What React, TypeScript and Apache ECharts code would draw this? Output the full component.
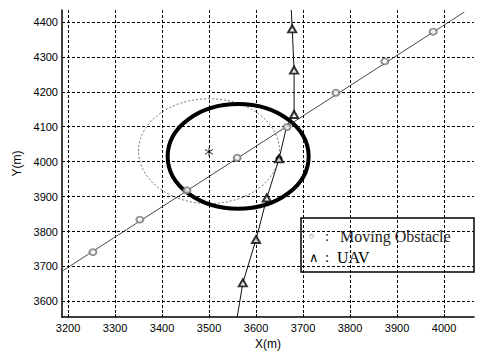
import React, { useEffect, useRef } from 'react';
import * as echarts from 'echarts';

// Axis ticks (metres)
const xTicks = [3200, 3300, 3400, 3500, 3600, 3700, 3800, 3900, 4000];
const yTicks = [3600, 3700, 3800, 3900, 4000, 4100, 4200, 4300, 4400];

// Moving obstacle: straight track and sampled positions
const obstacleTrack = [
  [3188, 3687],
  [4043, 4428],
];
const obstaclePositions = [
  [3253, 3741],
  [3353, 3834],
  [3453, 3918],
  [3560, 4011],
  [3666, 4099],
  [3770, 4197],
  [3874, 4287],
  [3977, 4372],
];

// UAV trajectory and sampled positions
const uavPath = [
  [3560, 3555],
  [3572, 3653],
  [3600, 3777],
  [3623, 3896],
  [3649, 4008],
  [3665, 4100],
  [3681, 4135],
  [3681, 4262],
  [3677, 4380],
  [3675, 4434],
];
const uavMarks = [
  [3572, 3653],
  [3600, 3777],
  [3623, 3896],
  [3649, 4008],
  [3681, 4135],
  [3681, 4262],
  [3677, 4380],
];
const uavCurrent = [[3649, 4008]];

// Predicted obstacle position (asterisk)
const predictedPoint = [[3500, 4028]];

// Protection zones: [centre x, centre y, radius]
const currentZone = [[3562, 4015, 150]];
const predictedZone = [[3500, 4030, 150]];

const zoneSeries = (data: number[][], style: any, z: number) => ({
  type: 'custom',
  z,
  silent: true,
  encode: { x: 0, y: 1 },
  data,
  renderItem: (params: any, api: any) => {
    const c = api.coord([api.value(0), api.value(1)]);
    const s = api.size([api.value(2), api.value(2)]);
    return {
      type: 'ellipse',
      shape: { cx: c[0], cy: c[1], rx: s[0], ry: s[1] },
      style: { fill: 'none', ...style },
    };
  },
});

export default function App() {
  const ref = useRef<HTMLDivElement>(null);

  useEffect(() => {
    if (!ref.current) return;
    const chart = echarts.init(ref.current, null, { renderer: 'svg' });
    const gridLine = { show: true, lineStyle: { color: '#000', width: 1, type: [3, 2] } };
    const labelFont = { fontFamily: 'Liberation Sans, Arial, sans-serif', fontSize: 11, color: '#000' };
    const plain = (v: number) => String(v);

    chart.setOption({
      animation: false,
      backgroundColor: '#fff',
      grid: { left: 62, top: 10, width: 412, height: 312, containLabel: false },
      xAxis: {
        type: 'value',
        min: 3187.2,
        max: 4063.8,
        name: 'X(m)',
        nameLocation: 'middle',
        nameGap: 19,
        nameTextStyle: { ...labelFont, fontSize: 12 },
        axisLine: { show: true, onZero: false, lineStyle: { color: '#000', width: 1.5 } },
        axisTick: { show: true, inside: true, length: 3, customValues: xTicks, lineStyle: { color: '#000' } },
        axisLabel: { ...labelFont, margin: 5, customValues: xTicks, formatter: plain },
        splitLine: gridLine,
      },
      yAxis: {
        type: 'value',
        min: 3555,
        max: 4434,
        name: 'Y(m)',
        nameLocation: 'middle',
        nameGap: 38,
        nameTextStyle: { ...labelFont, fontSize: 12 },
        axisLine: { show: true, onZero: false, lineStyle: { color: '#000', width: 1.5 } },
        axisTick: { show: true, inside: true, length: 3, customValues: yTicks, lineStyle: { color: '#000' } },
        axisLabel: { ...labelFont, margin: 4, customValues: yTicks, formatter: plain },
        splitLine: gridLine,
      },
      series: [
        zoneSeries(predictedZone, { stroke: '#777', lineWidth: 1, lineDash: [2, 2] }, 2),
        zoneSeries(currentZone, { stroke: '#000', lineWidth: 4 }, 3),
        {
          type: 'line',
          z: 4,
          data: obstacleTrack,
          symbol: 'none',
          lineStyle: { color: '#333', width: 0.9 },
          silent: true,
        },
        {
          type: 'scatter',
          z: 5,
          data: obstaclePositions,
          symbol: 'emptyCircle',
          symbolSize: [7, 6],
          itemStyle: { color: '#777', borderColor: '#777', borderWidth: 1 },
          silent: true,
        },
        {
          type: 'line',
          z: 4,
          data: uavPath,
          symbol: 'none',
          lineStyle: { color: '#111', width: 1 },
          silent: true,
        },
        {
          type: 'scatter',
          z: 6,
          data: uavCurrent,
          symbol: 'circle',
          symbolSize: 7,
          itemStyle: { color: '#000' },
          silent: true,
        },
        {
          type: 'scatter',
          z: 7,
          data: uavMarks,
          symbol: 'emptyTriangle',
          symbolSize: [8, 7],
          itemStyle: { color: '#000', borderColor: '#000', borderWidth: 1 },
          silent: true,
        },
        {
          type: 'scatter',
          z: 6,
          data: predictedPoint,
          symbol: 'path://M5,0L5,10M0,2L10,8M0,8L10,2',
          symbolSize: 8,
          itemStyle: { color: 'none', borderColor: '#000', borderWidth: 1 },
          silent: true,
        },
      ],
      graphic: [
        {
          type: 'rect',
          shape: { x: 301, y: 218, width: 173, height: 54 },
          style: { fill: 'none', stroke: '#000', lineWidth: 1.5 },
          z: 10,
        },
        {
          type: 'text',
          x: 309,
          y: 236,
          style: { text: '○', fill: '#666', verticalAlign: 'middle', font: '9px Liberation Serif' },
          z: 10,
        },
        {
          type: 'text',
          x: 325,
          y: 236,
          style: { text: ':', fill: '#222', verticalAlign: 'middle', font: '15px Liberation Serif' },
          z: 10,
        },
        {
          type: 'text',
          x: 340,
          y: 236,
          style: { text: 'Moving Obstacle', fill: '#222', verticalAlign: 'middle', font: '16px Liberation Serif' },
          z: 10,
        },
        {
          type: 'text',
          x: 309,
          y: 257,
          style: { text: '∧', fill: '#000', verticalAlign: 'middle', font: '13px Liberation Serif' },
          z: 10,
        },
        {
          type: 'text',
          x: 325,
          y: 257,
          style: { text: ':', fill: '#000', verticalAlign: 'middle', font: '15px Liberation Serif' },
          z: 10,
        },
        {
          type: 'text',
          x: 337,
          y: 257,
          style: { text: 'UAV', fill: '#000', verticalAlign: 'middle', font: '16px Liberation Serif' },
          z: 10,
        },
      ],
    });

    return () => chart.dispose();
  }, []);

  return (
    <div
      ref={ref}
      style={{ position: 'fixed', left: 0, top: 0, width: 482, height: 355, background: '#fff' }}
    />
  );
}
